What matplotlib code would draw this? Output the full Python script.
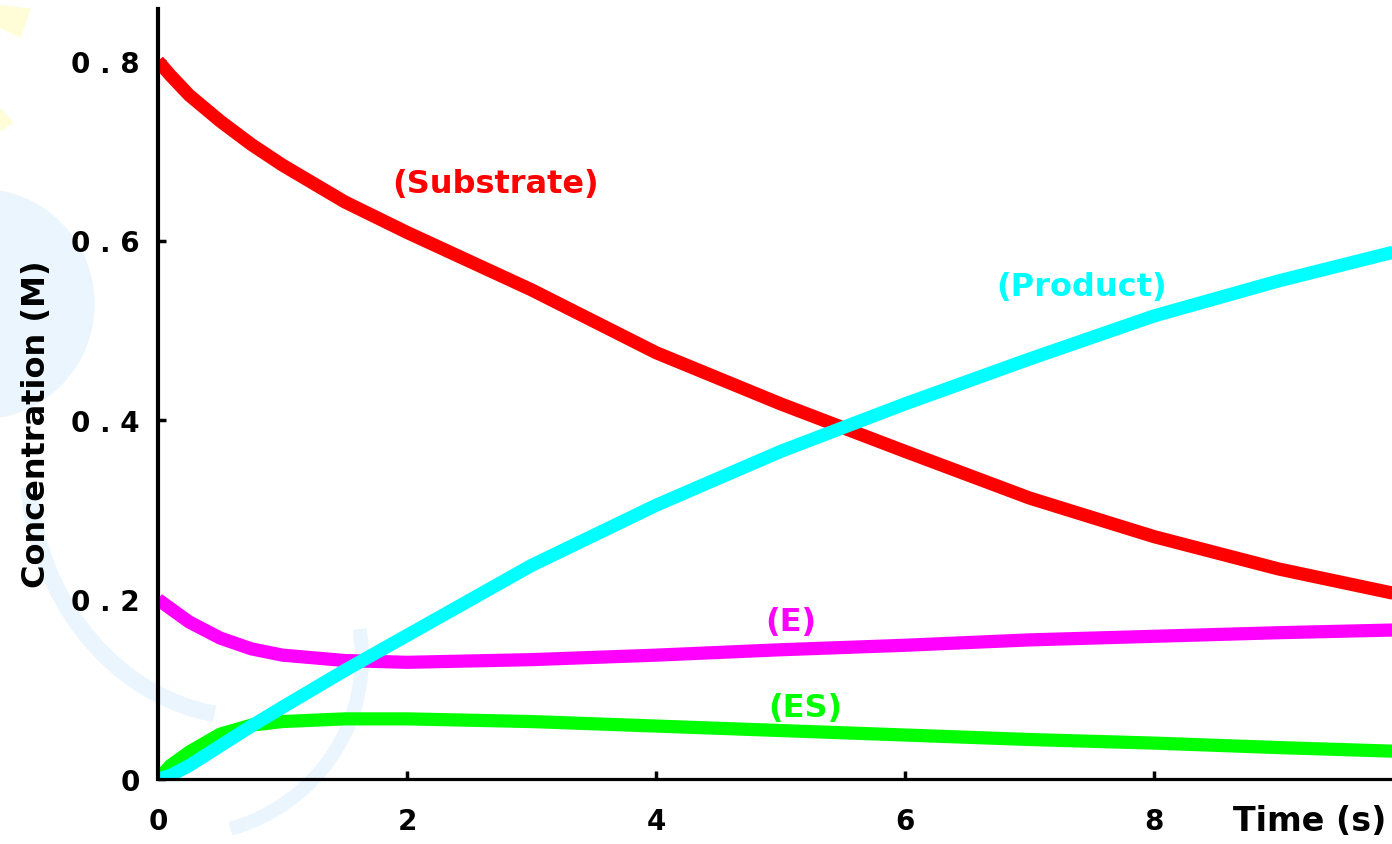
import matplotlib
matplotlib.use("Agg")
import matplotlib.pyplot as plt
from matplotlib.patches import Arc, Ellipse, Polygon

# time points (s)
t = [0, 0.1, 0.25, 0.5, 0.75, 1, 1.5, 2, 3, 4, 5, 6, 7, 8, 9, 9.92]

substrate = [0.80, 0.784, 0.762, 0.733, 0.707, 0.684, 0.643, 0.609, 0.545,
             0.475, 0.418, 0.365, 0.313, 0.270, 0.234, 0.207]
product = [0.0, 0.004, 0.015, 0.037, 0.059, 0.080, 0.121, 0.160, 0.238,
           0.305, 0.365, 0.418, 0.468, 0.516, 0.555, 0.587]
enzyme = [0.20, 0.19, 0.175, 0.157, 0.145, 0.138, 0.132, 0.130, 0.133,
          0.138, 0.144, 0.149, 0.155, 0.159, 0.163, 0.166]
complex_es = [0.0, 0.015, 0.030, 0.050, 0.060, 0.064, 0.067, 0.067, 0.064,
              0.059, 0.054, 0.049, 0.044, 0.040, 0.035, 0.031]

xticks = [0, 2, 4, 6, 8]
yticks = [0, 0.2, 0.4, 0.6, 0.8]
ytick_labels = ['0', '0 . 2', '0 . 4', '0 . 6', '0 . 8']

fig = plt.figure(figsize=(13.92, 8.45), dpi=100)

# faint watermark shapes in the background
pale_blue = '#eaf5fd'
pale_yellow = '#fffcd8'
fig.add_artist(Ellipse((-0.015, 0.639), 0.165, 0.272, transform=fig.transFigure,
                       color=pale_blue, zorder=-10))
fig.add_artist(Arc((0.18, 0.45), 0.32, 0.60, theta1=190, theta2=265,
                   transform=fig.transFigure, color=pale_blue, lw=12, zorder=-10))
fig.add_artist(Arc((0.13, 0.22), 0.26, 0.42, theta1=-80, theta2=15,
                   transform=fig.transFigure, color=pale_blue, lw=10, zorder=-10))
fig.add_artist(Polygon([[0, 0.992], [0.0216, 0.988], [0.0144, 0.955], [0, 0.967]],
                       transform=fig.transFigure, color=pale_yellow, zorder=-10))
fig.add_artist(Polygon([[0, 0.870], [0.009, 0.854], [0, 0.844]],
                       transform=fig.transFigure, color=pale_yellow, zorder=-10))

ax = fig.add_axes([158 / 1392, 65 / 845, 1 - 158 / 1392, 770 / 845])
ax.patch.set_alpha(0)

lw = 9.5
ax.plot(t, substrate, color='#ff0000', lw=lw, solid_capstyle='butt')
ax.plot(t, enzyme, color='#ff00ff', lw=lw, solid_capstyle='butt')
ax.plot(t, complex_es, color='#00ff00', lw=lw, solid_capstyle='butt')
ax.plot(t, product, color='#00ffff', lw=lw, solid_capstyle='butt')

lab = dict(fontsize=23, fontweight='bold', ha='center', va='center')
ax.text(2.71, 0.663, '(Substrate)', color='#ff0000', **lab)
ax.text(7.42, 0.549, '(Product)', color='#00ffff', **lab)
ax.text(5.08, 0.176, '(E)', color='#ff00ff', **lab)
ax.text(5.20, 0.080, '(ES)', color='#00ff00', **lab)

ax.set_xlim(0, 9.91)
ax.set_ylim(0, 770 / 897.5)
ax.set_xticks(xticks)
ax.set_xticklabels([str(v) for v in xticks])
ax.set_yticks(yticks)
ax.set_yticklabels(ytick_labels)

for s in ['top', 'right']:
    ax.spines[s].set_visible(False)
ax.spines['left'].set_linewidth(3)
ax.spines['bottom'].set_linewidth(2.3)

ax.tick_params(axis='both', direction='in', length=6, width=2.5,
               labelsize=20)
ax.tick_params(axis='x', pad=20)
ax.tick_params(axis='y', pad=13)
for lbl in ax.get_xticklabels() + ax.get_yticklabels():
    lbl.set_fontweight('bold')

fig.text(1310 / 1392, 1 - 822 / 845, 'Time (s)', fontsize=24,
         fontweight='bold', ha='center', va='center')
fig.text(37 / 1392, 1 - 424 / 845, 'Concentration (M)', fontsize=23,
         fontweight='bold', ha='center', va='center', rotation=90)

fig.savefig('out.png', dpi=100)
